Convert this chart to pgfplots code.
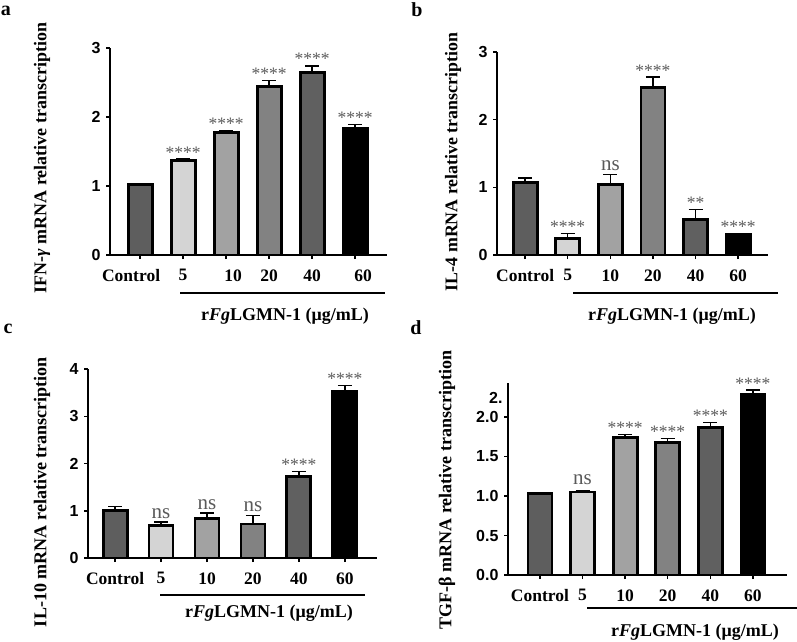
\documentclass[border=0pt]{standalone}
\usepackage{fontspec}
\setmainfont{Liberation Serif}
\setsansfont{Liberation Sans}
\usepackage{graphicx}
\usepackage{pgfplots}
\pgfplotsset{compat=1.18}
\definecolor{cctrl}{HTML}{5E5E5E}
\definecolor{cfive}{HTML}{D4D4D4}
\definecolor{cten}{HTML}{A2A2A2}
\definecolor{ctwenty}{HTML}{828282}
\definecolor{cforty}{HTML}{606060}
\definecolor{csixty}{HTML}{000000}
\definecolor{sigc}{HTML}{5A5A5A}
\pgfplotsset{
  panel/.style={scale only axis, axis lines*=left,
    axis line style={line width=1.8pt, black},
    ymin=0, xtick={0,...,5}, xticklabels={Control,5,10,20,40,60},
    tick align=outside, major tick length=4pt,
    tick style={line width=1.5pt, black},
    xticklabel style={font=\fontsize{17.5}{20}\selectfont\bfseries, yshift=-7pt},
    yticklabel style={font=\fontsize{16}{18}\selectfont\sffamily\bfseries, xshift=-2pt},
    /pgf/number format/assume math mode=true,
    clip=false, anchor=south west},
}
\newcommand\onebar[4]{\addplot[ybar, bar shift=0pt, bar width=24pt, fill=#4, draw=black, line width=2.8pt,
  error bars/.cd, y dir=plus, y explicit, error bar style={line width=1.4pt, black},
  error mark options={rotate=90, line width=1.4pt, mark size=7pt, black}] coordinates {(#1,#2) +- (0,#3)};}
\newcommand\stars[2]{\node[anchor=base, font=\fontsize{17.5}{20}\selectfont, text=sigc, inner sep=0pt, yshift=1pt] at (axis cs:#1,#2) {****};}
\newcommand\twostars[2]{\node[anchor=base, font=\fontsize{17.5}{20}\selectfont, text=sigc, inner sep=0pt, yshift=1pt] at (axis cs:#1,#2) {**};}
\newcommand\ns[2]{\node[anchor=base, font=\fontsize{21}{24}\selectfont, text=sigc, inner sep=0pt, yshift=4pt] at (axis cs:#1,#2) {ns};}
\newcommand\grp{r\textit{Fg}LGMN-1 (μg/mL)}
\begin{document}
\begin{tikzpicture}
\useasboundingbox (0,0) rectangle (797pt,641pt);
% panel a
\begin{axis}[panel, at={(110pt,386pt)}, width=277pt, height=207pt, xmin=-0.70, xmax=5.74, ymax=3, ytick={0,1,2,3},
  xticklabels={\hspace*{-18pt}Control,5,\hspace*{14pt}10,20,40,\hspace*{16pt}60}]
\onebar{0}{1.02}{0.01}{cctrl}
\onebar{1}{1.37}{0.02}{cfive}
\onebar{2}{1.77}{0.03}{cten}
\onebar{3}{2.44}{0.09}{ctwenty}
\onebar{4}{2.65}{0.09}{cforty}
\onebar{5}{1.84}{0.05}{csixty}
\stars{1}{1.39}\stars{2}{1.80}\stars{3}{2.53}\stars{4}{2.74}\stars{5}{1.89}
\end{axis}
% panel b
\begin{axis}[panel, at={(497pt,386pt)}, width=271pt, height=203pt, xmin=-0.66, xmax=5.70, ymax=3, ytick={0,1,2,3}]
\onebar{0}{1.075}{0.065}{cctrl}
\onebar{1}{0.245}{0.075}{cfive}
\onebar{2}{1.046}{0.145}{cten}
\onebar{3}{2.48}{0.15}{ctwenty}
\onebar{4}{0.53}{0.14}{cforty}
\onebar{5}{0.30}{0.02}{csixty}
\stars{1}{0.32}\ns{2}{1.19}\stars{3}{2.63}\twostars{4}{0.67}\stars{5}{0.32}
\end{axis}
% panel c
\begin{axis}[panel, at={(88pt,83pt)}, width=289pt, height=189pt, xmin=-0.59, xmax=5.70, ymax=4, ytick={0,1,2,3,4}]
\onebar{0}{1.00}{0.09}{cctrl}
\onebar{1}{0.69}{0.07}{cfive}
\onebar{2}{0.83}{0.12}{cten}
\onebar{3}{0.72}{0.18}{ctwenty}
\onebar{4}{1.73}{0.10}{cforty}
\onebar{5}{3.52}{0.13}{csixty}
\ns{1}{0.76}\ns{2}{0.95}\ns{3}{0.90}\stars{4}{1.83}\stars{5}{3.65}
\end{axis}
% panel d
\begin{axis}[panel, at={(508pt,66pt)}, width=279pt, height=192pt, xmin=-0.75, xmax=5.80, ymax=2.43,
  ytick={0,0.5,1,1.5,2}, yticklabel style={/pgf/number format/.cd, fixed, zerofill, precision=1},
  extra y ticks={2.24}, extra y tick labels={2.}, extra y tick style={major tick length=0pt}]
\onebar{0}{1.03}{0.015}{cctrl}
\onebar{1}{1.05}{0.015}{cfive}
\onebar{2}{1.74}{0.04}{cten}
\onebar{3}{1.68}{0.05}{ctwenty}
\onebar{4}{1.865}{0.065}{cforty}
\onebar{5}{2.29}{0.05}{csixty}
\ns{1}{1.10}\stars{2}{1.78}\stars{3}{1.73}\stars{4}{1.93}\stars{5}{2.34}
\end{axis}
% group lines and labels
\draw[line width=1.5pt] (180pt,348pt) -- (385pt,348pt);
\draw[line width=1.5pt] (573pt,348pt) -- (778pt,348pt);
\draw[line width=1.5pt] (160pt,46pt) -- (365pt,46pt);
\draw[line width=1.5pt] (587pt,33pt) -- (797pt,33pt);
\begin{scope}[every node/.style={font=\fontsize{18}{21}\selectfont\bfseries, inner sep=0pt}]
\node at (285pt,325pt) {\grp};
\node at (672pt,325pt) {\grp};
\node at (269pt,28pt) {\grp};
\node at (695pt,9pt) {\grp};
\node[rotate=90] at (42pt,483pt) {\resizebox{270pt}{!}{IFN-\textit{γ} mRNA relative transcription}};
\node[rotate=90] at (453pt,479pt) {\resizebox{258pt}{!}{IL-4 mRNA relative transcription}};
\node[rotate=90] at (42pt,149pt) {\resizebox{270pt}{!}{IL-10 mRNA relative transcription}};
\node[rotate=90] at (447pt,151pt) {\resizebox{279pt}{!}{TGF-β mRNA relative transcription}};
\end{scope}
\begin{scope}[every node/.style={font=\fontsize{20}{22}\selectfont\bfseries, inner sep=0pt}]
\node at (6pt,630pt) {a};
\node at (417pt,631pt) {b};
\node at (8pt,312pt) {c};
\node at (416pt,313pt) {d};
\end{scope}
\end{tikzpicture}
\end{document}
